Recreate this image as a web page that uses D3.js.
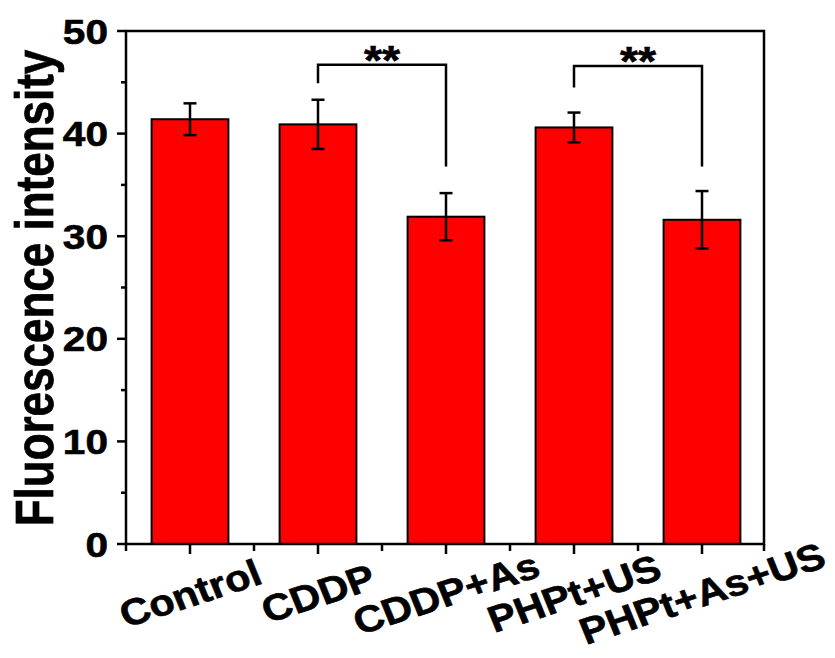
<!DOCTYPE html>
<html>
<head>
<meta charset="utf-8">
<script src="https://cdn.jsdelivr.net/npm/d3@7"></script>
<style>
  body { margin: 0; background: #fff; }
  text { font-family: Arial, "Liberation Sans", sans-serif; font-weight: bold; fill: #000; stroke: #000; stroke-width: 0.6px; }
</style>
</head>
<body>
<div id="chart"></div>
<script>
// data
var categories = ["Control", "CDDP", "CDDP+As", "PHPt+US", "PHPt+As+US"];
var values = [41.4, 40.9, 31.9, 40.6, 31.6];
var errors = [1.55, 2.4, 2.3, 1.45, 2.8];
var yTicks = [0, 10, 20, 30, 40, 50];
var yMinorTicks = [5, 15, 25, 35, 45];

// significance brackets: [from, to], level of bar, ends of the legs
var sigPairs = [[1, 2], [3, 4]];
var sigLevel = [46.7, 46.6];
var sigLeftEnd = [44.9, 44.5];
var sigRightEnd = [36.8, 36.8];
var sigText = ["**", "**"];

var width = 835, height = 658;
var sx = 1.16; // picture text looks stretched sideways a bit

var svg = d3.select("#chart").append("svg")
    .attr("width", width)
    .attr("height", height);

var x = d3.scaleBand()
    .domain(categories)
    .range([126, 766])
    .paddingInner(0.4)
    .paddingOuter(0.2);

var y = d3.scaleLinear()
    .domain([0, 50])
    .range([544, 31]);

// bars
svg.append("g")
    .selectAll("rect")
    .data(categories)
    .enter()
    .append("rect")
    .attr("x", function(d) { return x(d); })
    .attr("y", function(d, i) { return y(values[i]); })
    .attr("width", x.bandwidth())
    .attr("height", function(d, i) { return y(0) - y(values[i]); })
    .attr("fill", "#ff0000")
    .attr("stroke", "#000")
    .attr("stroke-width", 2);

// error bars
var eb = svg.append("g").attr("stroke", "#000").attr("stroke-width", 2.5);
categories.forEach(function(c, i) {
    var cx = x(c) + x.bandwidth() / 2;
    var hi = y(values[i] + errors[i]), lo = y(values[i] - errors[i]);
    eb.append("line").attr("x1", cx).attr("x2", cx).attr("y1", hi).attr("y2", lo);
    eb.append("line").attr("x1", cx - 6.5).attr("x2", cx + 6.5).attr("y1", hi).attr("y2", hi);
    eb.append("line").attr("x1", cx - 6.5).attr("x2", cx + 6.5).attr("y1", lo).attr("y2", lo);
});

// frame
svg.append("rect")
    .attr("x", 126).attr("y", 31)
    .attr("width", 766 - 126 - 2).attr("height", 544 - 31)
    .attr("fill", "none")
    .attr("stroke", "#000")
    .attr("stroke-width", 2.5);

// y axis ticks
var yAxis = svg.append("g").attr("stroke", "#000").attr("stroke-width", 2.5);
yTicks.forEach(function(t) {
    yAxis.append("line").attr("x1", 117).attr("x2", 126).attr("y1", y(t)).attr("y2", y(t));
});
yMinorTicks.forEach(function(t) {
    yAxis.append("line").attr("x1", 121).attr("x2", 126).attr("y1", y(t)).attr("y2", y(t));
});
svg.append("g")
    .selectAll("text")
    .data(yTicks)
    .enter()
    .append("text")
    .attr("transform", function(d) { return "translate(108," + y(d) + ") scale(" + sx + ",1)"; })
    .attr("text-anchor", "end")
    .attr("dy", "0.36em")
    .style("font-size", "35px")
    .text(function(d) { return d; });

// x axis ticks: major at centres, minor at band edges
var xAxis = svg.append("g").attr("stroke", "#000").attr("stroke-width", 2.5);
categories.forEach(function(c, i) {
    var cx = x(c) + x.bandwidth() / 2;
    xAxis.append("line").attr("x1", cx).attr("x2", cx).attr("y1", 544).attr("y2", 554);
    var edge = cx - x.step() / 2;
    xAxis.append("line").attr("x1", edge).attr("x2", edge).attr("y1", 544).attr("y2", 551);
});
xAxis.append("line").attr("x1", 764).attr("x2", 764).attr("y1", 544).attr("y2", 551);

svg.append("g")
    .selectAll("text")
    .data(categories)
    .enter()
    .append("text")
    .attr("transform", function(d) {
        return "translate(" + (x(d) + x.bandwidth() / 2) + ",593) scale(1.12,1) rotate(-20)";
    })
    .attr("text-anchor", "middle")
    .attr("dy", "0.36em")
    .style("font-size", "37px")
    .text(function(d) { return d; });

// y title
svg.append("text")
    .attr("transform", "translate(34,288) scale(1.2,1) rotate(-90)")
    .attr("text-anchor", "middle")
    .attr("dy", "0.36em")
    .style("font-size", "44px")
    .text("Fluorescence intensity");

// significance brackets
var sg = svg.append("g");
sigPairs.forEach(function(p, i) {
    var x1 = x(categories[p[0]]) + x.bandwidth() / 2;
    var x2 = x(categories[p[1]]) + x.bandwidth() / 2;
    var path = d3.path();
    path.moveTo(x1, y(sigLeftEnd[i]));
    path.lineTo(x1, y(sigLevel[i]));
    path.lineTo(x2, y(sigLevel[i]));
    path.lineTo(x2, y(sigRightEnd[i]));
    sg.append("path")
        .attr("d", path.toString())
        .attr("fill", "none")
        .attr("stroke", "#000")
        .attr("stroke-width", 2.5);
    sg.append("text")
        .attr("transform", "translate(" + (x1 + x2) / 2 + "," + (y(sigLevel[i]) + 9) + ") scale(" + sx + ",1)")
        .attr("text-anchor", "middle")
        .style("font-size", "40px")
        .text(sigText[i]);
});
</script>
</body>
</html>
